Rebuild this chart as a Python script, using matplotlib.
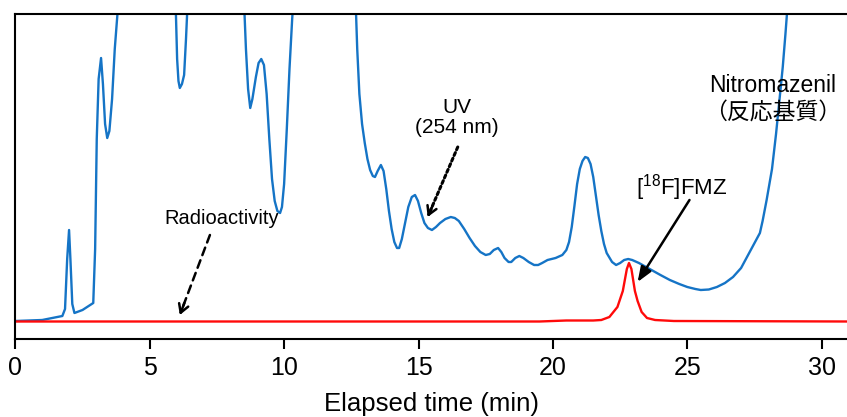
import matplotlib
matplotlib.use('Agg')
import matplotlib.pyplot as plt

plt.rcParams['font.family'] = ['Liberation Sans', 'Noto Sans CJK JP', 'DejaVu Sans']
plt.rcParams['mathtext.fontset'] = 'custom'
plt.rcParams['mathtext.rm'] = 'Liberation Sans'
plt.rcParams['mathtext.it'] = 'Liberation Sans:italic'
plt.rcParams['path.simplify'] = False

# UV trace (254 nm); values above the frame are clipped peaks
uv_time = [0.0, 1.0, 1.75, 1.85, 1.93, 2.0, 2.05, 2.12, 2.2, 2.5, 2.9, 2.97, 3.03,
           3.1, 3.19, 3.26, 3.34, 3.42, 3.5, 3.6, 3.7, 3.8, 3.9,
           5.0, 5.9, 5.97, 6.02, 6.07, 6.12, 6.2, 6.28, 6.35, 6.45,
           7.5, 8.45, 8.52, 8.58, 8.66, 8.74, 8.82, 8.95, 9.05, 9.15, 9.25, 9.35, 9.45,
           9.55, 9.65, 9.75, 9.85, 9.92, 10.0, 10.1, 10.2, 10.3, 10.4,
           11.5, 12.6, 12.67, 12.72, 12.8, 12.9, 13.0, 13.1, 13.2, 13.3, 13.38, 13.48,
           13.6, 13.7, 13.8, 13.9, 14.0, 14.1, 14.2, 14.28, 14.38, 14.5, 14.62, 14.75,
           14.87, 14.98, 15.1, 15.22, 15.35, 15.5, 15.65, 15.8, 16.0, 16.2, 16.35,
           16.5, 16.7, 16.9, 17.1, 17.3, 17.5, 17.65, 17.8, 17.96, 18.08, 18.2, 18.35,
           18.45, 18.6, 18.75, 18.9, 19.1, 19.3, 19.45, 19.6, 19.8, 20.1, 20.35, 20.5,
           20.6, 20.7, 20.8, 20.9, 21.0, 21.1, 21.2, 21.3, 21.4, 21.5, 21.6, 21.7,
           21.8, 21.9, 22.0, 22.2, 22.35, 22.5, 22.65, 22.8, 22.95, 23.2, 23.6, 24.0,
           24.35, 24.7, 25.0, 25.3, 25.5, 25.8, 26.1, 26.4, 26.7, 27.0, 27.3, 27.5,
           27.7, 27.8, 27.95, 28.15, 28.3, 28.45, 28.55, 28.65, 28.72, 28.85, 31.0]
uv_signal = [18, 19, 23, 30, 80, 109, 80, 35, 26, 29, 36, 90, 200,
             260, 281, 255, 215, 201, 208, 240, 290, 325, 360,
             400, 360, 330, 280, 258, 251, 255, 264, 300, 360,
             400, 360, 330, 290, 250, 231, 240, 262, 276, 280, 274, 245, 200,
             160, 138, 128, 126, 132, 155, 210, 270, 320, 360,
             400, 360, 330, 290, 245, 215, 196, 180, 169, 163, 162, 168,
             174, 168, 150, 128, 110, 97, 91, 91, 100, 116, 132, 142,
             144, 138, 126, 116, 111, 109, 112, 116, 120, 122, 121,
             118, 110, 101, 93, 87, 84, 85, 89, 91, 87, 81, 77,
             77, 81, 83, 81, 77, 74, 74, 76, 79, 81, 84, 89,
             97, 112, 133, 155, 170, 178, 182, 181, 175, 162, 143, 124,
             108, 95, 86, 77, 74, 76, 79, 80, 79, 76, 70, 64,
             59, 55, 52, 50, 49, 49.5, 52, 56, 62, 71, 86, 96,
             106, 118, 139, 170, 205, 245, 272, 305, 330, 370, 400]

# radioactivity trace
ra_time = [0.0, 10.0, 19.5, 20.5, 21.5, 21.8, 22.1, 22.4, 22.6, 22.75, 22.83, 22.92,
           23.05, 23.15, 23.3, 23.5, 23.8, 24.5, 31.0]
ra_signal = [17.5, 17.5, 17.5, 18.5, 18.5, 19, 22, 32, 48, 70, 76, 70,
             48, 38, 27, 21, 19, 18, 17.5]

xticks = [0, 5, 10, 15, 20, 25, 30]

fig = plt.figure(figsize=(8.47, 4.17), dpi=100)
ax = fig.add_axes([15.3 / 847, 78 / 417, 1 - 15.3 / 847, 325 / 417])

ax.plot(uv_time, uv_signal, color='#1574C6', lw=1.7, solid_joinstyle='round')
ax.plot(ra_time, ra_signal, color='#FF0A0A', lw=1.7, solid_joinstyle='round')

ax.set_xlim(0, 30.94)
ax.set_ylim(0, 325)
ax.set_xticks(xticks)
ax.set_yticks([])
ax.tick_params(axis='x', direction='out', length=7, width=1.5, pad=5, labelsize=18)
for side in ['top', 'left', 'bottom']:
    ax.spines[side].set_linewidth(1.5)
ax.spines['right'].set_visible(False)
ax.set_xlabel('Elapsed time (min)', fontsize=18.5, labelpad=9)

# Radioactivity (dashed arrow)
ax.text(7.68, 121, 'Radioactivity', fontsize=14.5, ha='center', va='center')
ax.annotate('', xy=(6.12, 24), xytext=(7.24, 104),
            arrowprops=dict(arrowstyle='-', lw=1.8, linestyle=(0, (3.2, 2.2)),
                            shrinkA=0, shrinkB=2))
ax.annotate('', xy=(6.12, 24), xytext=(6.29, 36),
            arrowprops=dict(arrowstyle='->,head_length=0.6,head_width=0.35', lw=1.8,
                            shrinkA=0, shrinkB=0))

# UV (dotted arrow)
ax.text(16.41, 221.5, 'UV\n(254 nm)', fontsize=15, ha='center', va='center',
        linespacing=1.1)
ax.annotate('', xy=(15.34, 122), xytext=(16.46, 192),
            arrowprops=dict(arrowstyle='-', lw=2.2, linestyle=(0, (1, 1)),
                            shrinkA=0, shrinkB=2))
ax.annotate('', xy=(15.34, 122), xytext=(15.51, 132.5),
            arrowprops=dict(arrowstyle='->,head_length=0.6,head_width=0.35', lw=1.8,
                            shrinkA=0, shrinkB=0))

# [18F]FMZ (solid arrow)
ax.text(24.78, 151, r'[$^{18}$F]FMZ', fontsize=16, ha='center', va='center')
ax.annotate('', xy=(23.15, 57), xytext=(25.08, 139),
            arrowprops=dict(arrowstyle='-|>,head_length=0.9,head_width=0.35', lw=1.8,
                            color='black', shrinkA=0, shrinkB=0))

ax.text(28.17, 240, 'Nitromazenil\n（反応基質）', fontsize=16.5, ha='center', va='center',
        linespacing=1.25)

plt.savefig('out.png', dpi=100)
